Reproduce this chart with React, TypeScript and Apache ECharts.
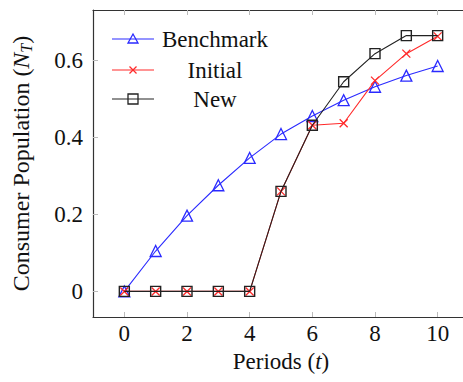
import React, { useEffect, useRef } from "react";
import * as echarts from "echarts";

const periods = [0, 1, 2, 3, 4, 5, 6, 7, 8, 9, 10];
const benchmark = [0, 0.105, 0.197, 0.276, 0.347, 0.409, 0.456, 0.497, 0.532, 0.561, 0.586];
const initial = [0, 0, 0, 0, 0, 0.26, 0.432, 0.437, 0.548, 0.618, 0.663];
const newer = [0, 0, 0, 0, 0, 0.26, 0.432, 0.545, 0.618, 0.665, 0.665];
const xTicks = [0, 2, 4, 6, 8, 10];
const yTicks = [0, 0.2, 0.4, 0.6];
const seriesNames = ["Benchmark", "Initial", "New"];

const FONT = "Liberation Serif";
const BLUE = "#2a2aff";
const RED = "#ff2a2a";
const BLACK = "#222222";
const CROSS = "path://M0,0L10,10M10,0L0,10";

export default function App() {
  const ref = useRef<HTMLDivElement>(null);
  useEffect(() => {
    const chart = echarts.init(ref.current!, null, { renderer: "svg" });
    const pair = (ys: number[]) => periods.map((x, i) => [x, ys[i]]);
    const axisCommon = {
      axisLine: { show: true, onZero: false, lineStyle: { color: "#333", width: 1.2 } },
      splitLine: { show: false },
    };
    const tickStyle = { show: true, inside: true, length: 5, lineStyle: { color: "#bbbbbb", width: 1 } };
    const lx1 = 112, lx2 = 154, lmx = 133, ltx = 215;
    const rows = [39, 70, 99];
    const legendItems: any[] = [];
    const colors = [BLUE, RED, BLACK];
    rows.forEach((y, i) => {
      legendItems.push({
        type: "line",
        shape: { x1: lx1, y1: y, x2: lx2, y2: y },
        style: { stroke: colors[i], lineWidth: 1.2 },
      });
      legendItems.push({
        type: "text",
        x: ltx,
        y: y,
        style: {
          text: seriesNames[i],
          fontFamily: FONT,
          fontSize: 23,
          fill: "#111",
          align: "center",
          verticalAlign: "middle",
        },
      });
    });
    legendItems.push({
      type: "polygon",
      shape: { points: [[lmx - 5, rows[0] + 4], [lmx + 5, rows[0] + 4], [lmx, rows[0] - 5]] },
      style: { fill: "none", stroke: BLUE, lineWidth: 1.3 },
    });
    legendItems.push({
      type: "line",
      shape: { x1: lmx - 3.5, y1: rows[1] - 3.5, x2: lmx + 3.5, y2: rows[1] + 3.5 },
      style: { stroke: RED, lineWidth: 1.3 },
    });
    legendItems.push({
      type: "line",
      shape: { x1: lmx - 3.5, y1: rows[1] + 3.5, x2: lmx + 3.5, y2: rows[1] - 3.5 },
      style: { stroke: RED, lineWidth: 1.3 },
    });
    legendItems.push({
      type: "rect",
      shape: { x: lmx - 5, y: rows[2] - 5, width: 10, height: 10 },
      style: { fill: "none", stroke: BLACK, lineWidth: 1.3 },
    });

    chart.setOption({
      animation: false,
      textStyle: { fontFamily: FONT },
      grid: { left: 93, top: 10, width: 376, height: 307, containLabel: false, outerBoundsMode: "none" },
      xAxis: [
        {
          type: "value",
          min: -1,
          max: 11,
          position: "bottom",
          ...axisCommon,
          axisTick: { ...tickStyle, customValues: xTicks },
          axisLabel: {
            customValues: xTicks,
            margin: 5,
            fontFamily: FONT,
            fontSize: 23,
            color: "#111",
          },
          name: "Periods ({i|t})",
          nameLocation: "middle",
          nameGap: 33,
          nameTextStyle: {
            fontFamily: FONT,
            fontSize: 23,
            color: "#111",
            rich: { i: { fontFamily: FONT, fontSize: 23, fontStyle: "italic", color: "#111" } },
          },
        },
        {
          type: "value",
          min: -1,
          max: 11,
          position: "top",
          ...axisCommon,
          axisTick: { ...tickStyle, customValues: xTicks },
          axisLabel: { show: false },
        },
      ],
      yAxis: [
        {
          type: "value",
          min: -0.0665,
          max: 0.7315,
          position: "left",
          ...axisCommon,
          axisTick: { ...tickStyle, customValues: yTicks },
          axisLabel: {
            customValues: yTicks,
            margin: 10,
            fontFamily: FONT,
            fontSize: 23,
            color: "#111",
            formatter: (v: number) => (Math.abs(v) < 1e-9 ? "0" : v.toFixed(1)),
          },
          name: "Consumer Population ({i|N}{s|T})",
          nameLocation: "middle",
          nameRotate: 90,
          nameGap: 59,
          nameTextStyle: {
            fontFamily: FONT,
            fontSize: 24,
            color: "#111",
            rich: {
              i: { fontFamily: FONT, fontSize: 24, fontStyle: "italic", color: "#111" },
              s: { fontFamily: FONT, fontSize: 16, fontStyle: "italic", color: "#111", padding: [10, 0, 0, 0] },
            },
          },
        },
        {
          type: "value",
          min: -0.0665,
          max: 0.7315,
          position: "right",
          ...axisCommon,
          axisTick: { ...tickStyle, customValues: yTicks },
          axisLabel: { show: false },
        },
      ],
      series: [
        {
          name: seriesNames[0],
          type: "line",
          data: pair(benchmark),
          symbol: "triangle",
          symbolSize: 11,
          showAllSymbol: true,
          lineStyle: { color: BLUE, width: 1.1 },
          itemStyle: { color: "rgba(0,0,0,0)", borderColor: BLUE, borderWidth: 1.3 },
          z: 2,
        },
        {
          name: seriesNames[1],
          type: "line",
          data: pair(initial),
          symbol: CROSS,
          symbolSize: 8,
          showAllSymbol: true,
          lineStyle: { color: RED, width: 1.1 },
          itemStyle: { color: "rgba(0,0,0,0)", borderColor: RED, borderWidth: 1.3 },
          z: 3,
        },
        {
          name: seriesNames[2],
          type: "line",
          data: pair(newer),
          symbol: "rect",
          symbolSize: 10,
          showAllSymbol: true,
          lineStyle: { color: BLACK, width: 1.1 },
          itemStyle: { color: "rgba(0,0,0,0)", borderColor: BLACK, borderWidth: 1.4 },
          z: 4,
        },
      ],
      graphic: legendItems,
    });
    return () => chart.dispose();
  }, []);
  return (
    <div
      ref={ref}
      style={{ position: "absolute", left: 0, top: 0, width: 463, height: 382, background: "#fff" }}
    />
  );
}
